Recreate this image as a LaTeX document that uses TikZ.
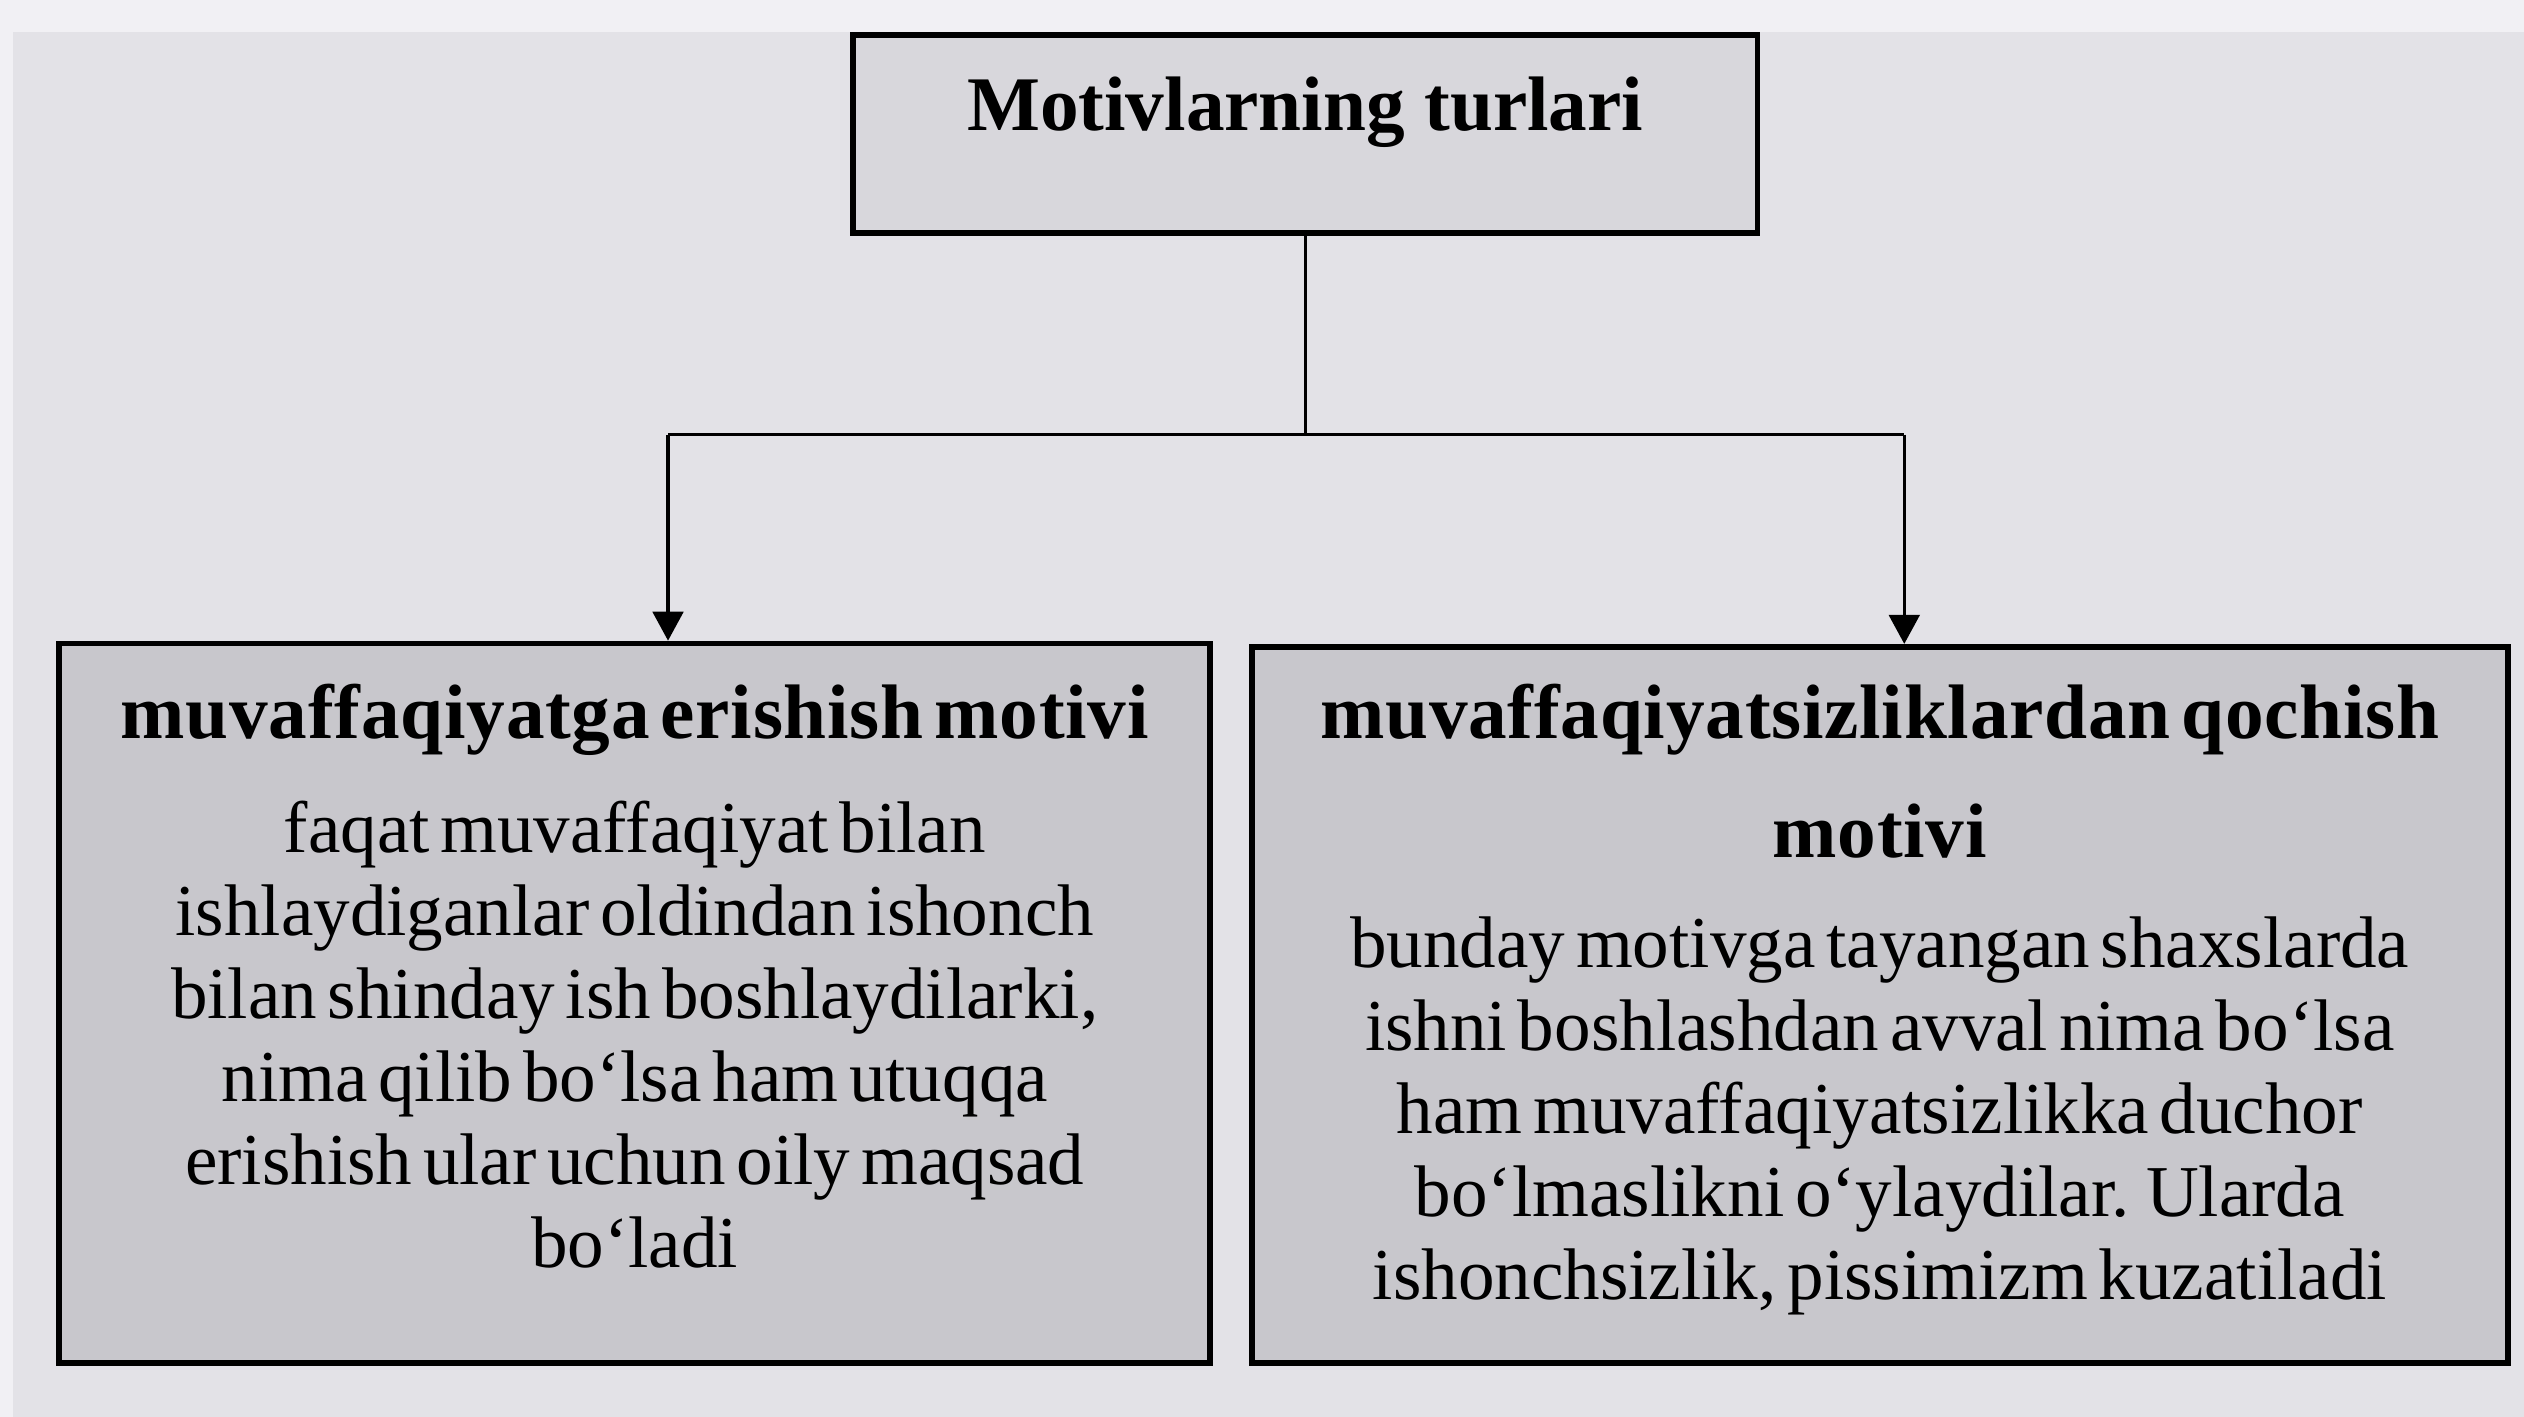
\documentclass[tikz,border=0pt]{standalone}
\usepackage{fontspec}
\setmainfont{Liberation Serif}
\newfontfamily\bodyfam[WordSpace=1.15]{Liberation Serif}
\newfontfamily\headfam[LetterSpace=1]{Liberation Serif}
\usetikzlibrary{arrows.meta}
\definecolor{bgc}{HTML}{E3E2E7}
\definecolor{bandc}{HTML}{F1F0F4}
\definecolor{topfill}{HTML}{D8D7DC}
\definecolor{boxfill}{HTML}{C8C7CC}
\tikzset{
  boxstyle/.style={draw=black, line width=1.8pt, rectangle, inner ysep=0pt},
  conn/.style={draw=black, line width=1pt},
  arr/.style={conn, -{Triangle[width=9.5pt,length=9pt]}},
}
\newcommand{\bodyfont}{\bodyfam\fontsize{22.7}{25.75}\selectfont}
\newcommand{\headf}{\headfam\bfseries\fontsize{24}{37}\selectfont}
\begin{document}
\begin{tikzpicture}[x=0.5pt,y=-0.5pt]
\useasboundingbox (0,0) rectangle (1568,880);
\fill[bgc] (0,0) rectangle (1568,880);
\fill[bandc] (0,0) rectangle (1568,20);
\fill[bandc] (0,20) rectangle (8,880);

\node[boxstyle, fill=topfill, anchor=north west, inner xsep=0pt,
      minimum width=281pt, text height=29.5pt, text depth=32pt,
      font=\bfseries\fontsize{24}{37}\selectfont] (top) at (528,20) {Motivlarning turlari};

\node[boxstyle, fill=boxfill, anchor=north west, text width=340pt, inner xsep=8.75pt,
      align=center, text height=29.5pt, text depth=194pt] (left) at (35,398)
  {{\headf muvaffaqiyatga erishish motivi\par}\vspace{9.75pt}%
   \bodyfont faqat muvaffaqiyat bilan\\
   ishlaydiganlar oldindan ishonch\\
   bilan shinday ish boshlaydilarki,\\
   nima qilib bo‘lsa ham utuqqa\\
   erishish ular uchun oily maqsad\\
   bo‘ladi\par};

\node[boxstyle, fill=boxfill, anchor=north west, text width=376pt, inner xsep=7pt,
      align=center, text height=28.5pt, text depth=194pt] (right) at (776,400)
  {{\headf muvaffaqiyatsizliklardan qochish\\ motivi\par}\vspace{8.5pt}%
   \bodyfont bunday motivga tayangan shaxslarda\\
   ishni boshlashdan avval nima bo‘lsa\\
   ham muvaffaqiyatsizlikka duchor\\
   bo‘lmaslikni o‘ylaydilar. Ularda\\
   ishonchsizlik, pissimizm kuzatiladi\par};

\coordinate (la) at (415,270);
\coordinate (ra) at (1183,270);
\draw[conn] (top.south) -- (top.south |- la);
\draw[conn] (la) -- (ra);
\draw[arr] (la) -- (la |- left.north);
\draw[arr] (ra) -- (ra |- right.north);
\end{tikzpicture}
\end{document}
